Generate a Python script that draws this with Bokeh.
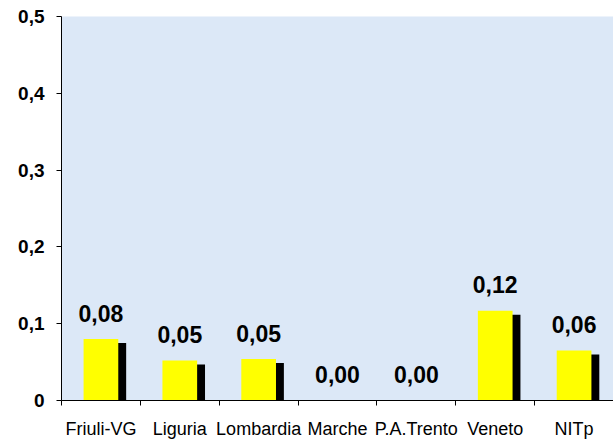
import numpy as np
from bokeh.plotting import figure
from bokeh.models import FixedTicker, CustomJSTickFormatter, ColumnDataSource, Range1d
from bokeh.core.properties import value
from bokeh.embed import file_html
from bokeh.resources import INLINE

categories = ["Friuli-VG", "Liguria", "Lombardia", "Marche", "P.A.Trento", "Veneto", "NITp"]
values = [0.080, 0.052, 0.054, 0.0, 0.0, 0.117, 0.065]
value_labels = ["0,08", "0,05", "0,05", "0,00", "0,00", "0,12", "0,06"]
y_ticks = [0, 0.1, 0.2, 0.3, 0.4, 0.5]

FONT = "Liberation Sans"

n = len(categories)
xc = np.arange(n) + 0.5
vals = np.array(values)

p = figure(width=613, height=441, output_backend="svg", toolbar_location=None,
           x_range=Range1d(0, n), y_range=Range1d(0, 0.5),
           min_border_left=61, min_border_top=16, min_border_right=0, min_border_bottom=39)
p.border_fill_color = "white"
p.outline_line_color = None
p.xgrid.grid_line_color = None
p.ygrid.grid_line_color = None

# frame background
p.background_fill_color = "#dce8f7"

src = ColumnDataSource(dict(x=xc, v=vals, lab=value_labels,
                            xs=xc + 0.075, vs=np.maximum(vals - 0.0052, 0)))

p.vbar(x="xs", width=0.49, top="vs", bottom=0, source=src,
       fill_color="black", line_color=None)
p.vbar(x="x", width=0.44, top="v", bottom=0, source=src,
       fill_color="#FFFF00", line_color=None)

p.text(x="x", y="v", text="lab", source=src, text_align="center",
       text_baseline="alphabetic", y_offset=-26,
       text_font=value(FONT), text_font_style="bold", text_font_size="23px",
       text_color="black")

# x axis
xa = p.xaxis[0]
xa.ticker = FixedTicker(ticks=list(xc), minor_ticks=list(range(n + 1)))
xa.major_label_overrides = {float(x): c for x, c in zip(xc, categories)}
xa.major_tick_line_color = None
xa.major_tick_out = 0
xa.major_tick_in = 0
xa.minor_tick_out = 5
xa.minor_tick_in = 0
xa.minor_tick_line_color = "black"
xa.axis_line_color = "black"
xa.major_label_text_font = FONT
xa.major_label_text_font_size = "18px"
xa.major_label_text_color = "black"
xa.major_label_standoff = 13

# y axis
ya = p.yaxis[0]
ya.ticker = FixedTicker(ticks=y_ticks, minor_ticks=[])
ya.formatter = CustomJSTickFormatter(code="""
    if (Math.abs(tick) < 1e-9) return "0";
    return tick.toFixed(1).replace('.', ',');
""")
ya.major_tick_out = 5
ya.major_tick_in = 0
ya.minor_tick_line_color = None
ya.axis_line_color = "black"
ya.major_label_text_font = FONT
ya.major_label_text_font_style = "bold"
ya.major_label_text_font_size = "19px"
ya.major_label_text_color = "black"
ya.major_label_standoff = 12

open("out.html", "w").write(file_html(p, INLINE))
